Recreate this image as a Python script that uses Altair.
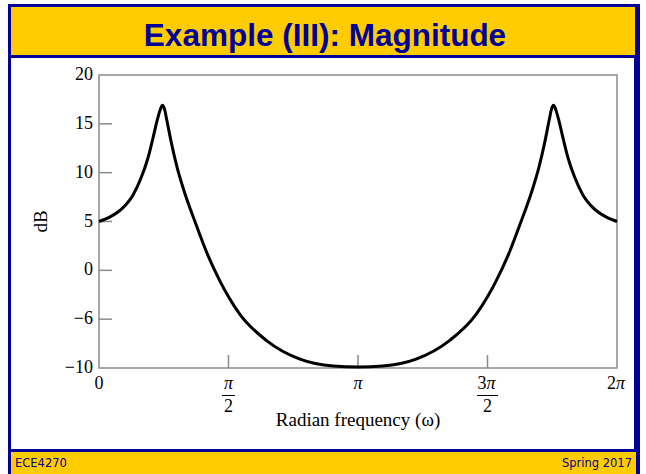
import altair as alt
import pandas as pd

# Magnitude response: frequency in units of pi (0 .. 2pi), level in dB
omega_over_pi = [0.000, 0.041, 0.092, 0.131, 0.163, 0.189, 0.208, 0.227, 0.237,
                 0.245, 0.253, 0.261, 0.279, 0.301, 0.330, 0.369, 0.421, 0.467,
                 0.500, 0.544, 0.647, 0.776, 0.905, 1.000,
                 1.095, 1.224, 1.353, 1.456, 1.500, 1.533, 1.579, 1.631, 1.670,
                 1.699, 1.721, 1.739, 1.747, 1.755, 1.763, 1.773, 1.792, 1.811,
                 1.837, 1.869, 1.908, 1.959, 2.000]
magnitude_db = [5.0, 5.45, 6.4, 7.7, 9.5, 11.5, 13.5, 15.6, 16.5,
                16.9, 16.5, 15.5, 13.1, 10.6, 8.0, 5.1, 1.5, -1.1,
                -2.7, -4.5, -7.2, -9.1, -9.8, -9.9,
                -9.8, -9.1, -7.2, -4.5, -2.7, -1.1, 1.5, 5.1, 8.0,
                10.6, 13.1, 15.5, 16.5, 16.9, 16.5, 15.6, 13.5, 11.5,
                9.5, 7.7, 6.4, 5.45, 5.0]

# Axis ticks
y_tick_values = [-10, -5, 0, 5, 10, 15, 20]
y_tick_labels = ["\u221210", "\u22126", "0", "5", "10", "15", "20"]
x_tick_values = [0, 0.5, 1, 1.5, 2]
x_tick_coefs = ["0", "", "", "3", "2"]        # upright part of the numerator
x_tick_symbols = ["", "\u03c0", "\u03c0", "\u03c0", "\u03c0"]  # italic pi
x_tick_denominators = ["", "2", "", "2", ""]

slide_title = "Example (III): Magnitude"
x_title = "Radian frequency (\u03c9)"
y_title = "dB"
footer_left = "ECE4270"
footer_right = "Spring 2017"

W, H = 518, 293
BLUE = "#000099"
YELLOW = "#FFCC00"
GRAY = "#8a8a8a"
SERIF = "Liberation Serif"
TICK_FONT = 18
TITLE_FONT = 19

curve = pd.DataFrame({"w": omega_over_pi, "db": magnitude_db})
xticks = pd.DataFrame({"w": x_tick_values, "coef": x_tick_coefs,
                       "sym": x_tick_symbols, "den": x_tick_denominators})
yticks = pd.DataFrame({"db": y_tick_values, "label": y_tick_labels})
inner_yticks = pd.DataFrame({"db": y_tick_values[1:-1]})
inner_xticks = pd.DataFrame({"w": x_tick_values[1:-1]})

x_scale = alt.Scale(domain=[0, 2], nice=False, zero=False)
y_scale = alt.Scale(domain=[-10, 20], nice=False, zero=False)
X = alt.X("w:Q", scale=x_scale, axis=None)
Y = alt.Y("db:Q", scale=y_scale, axis=None)

one_row = alt.InlineData(values=[{}])


def panel(x, x2, y, y2, color):
    return alt.Chart(one_row).mark_rect(color=color).encode(
        x=alt.value(x), x2=alt.value(x2), y=alt.value(y), y2=alt.value(y2)
    )


def label(text, x, y, **style):
    return alt.Chart(one_row).mark_text(**style).encode(
        x=alt.value(x), y=alt.value(y), text=alt.value(text)
    )


# Slide frame: blue border, yellow title band, white body, yellow footer
frame = panel(-91, 541, -71, 405, BLUE)
title_band = panel(-88, 536, -68, -20, YELLOW)
body = panel(-88, 535, -17, 374, "white")
footer_band = panel(-88, 537, 377, 405, YELLOW)

title_text = label(slide_title, 226, -29, font="Liberation Sans", fontSize=31.5,
                   fontWeight="bold", color=BLUE, align="center",
                   baseline="alphabetic")
footer_l = label(footer_left, -84, 392, font="DejaVu Sans", fontSize=11.5,
                 color=BLUE, align="left", baseline="alphabetic")
footer_r = label(footer_right, 533, 392, font="DejaVu Sans", fontSize=11.5,
                 color=BLUE, align="right", baseline="alphabetic")

# Plot box
box = alt.Chart(one_row).mark_rect(
    fillOpacity=0, stroke=GRAY, strokeWidth=1.5
).encode(x=alt.value(0), x2=alt.value(W), y=alt.value(0), y2=alt.value(H))

# Inward tick marks
ytick_marks = alt.Chart(inner_yticks).mark_rule(color=GRAY, strokeWidth=1.5).encode(
    y=Y, x=alt.value(0), x2=alt.value(13))
xtick_marks = alt.Chart(inner_xticks).mark_rule(color=GRAY, strokeWidth=1.5).encode(
    x=X, y=alt.value(H), y2=alt.value(H - 13))

line = alt.Chart(curve).mark_line(
    color="black", strokeWidth=3, interpolate="monotone"
).encode(x=X, y=Y)

# Tick labels
ylabels = alt.Chart(yticks).mark_text(
    font=SERIF, fontSize=TICK_FONT, color="black", align="right", baseline="middle"
).encode(y=Y, x=alt.value(-6), text="label:N")

num_y = alt.value(H + 16)
coef_alone = alt.Chart(xticks).mark_text(
    font=SERIF, fontSize=TICK_FONT, color="black", baseline="middle"
).transform_filter("datum.sym == ''").encode(x=X, y=num_y, text="coef:N")
sym_alone = alt.Chart(xticks).mark_text(
    font=SERIF, fontSize=TICK_FONT, color="black", baseline="middle",
    fontStyle="italic"
).transform_filter("datum.coef == ''").encode(x=X, y=num_y, text="sym:N")
coef_pair = alt.Chart(xticks).mark_text(
    font=SERIF, fontSize=TICK_FONT, color="black", baseline="middle",
    align="right", dx=-1
).transform_filter("datum.sym != '' && datum.coef != ''").encode(
    x=X, y=num_y, text="coef:N")
sym_pair = alt.Chart(xticks).mark_text(
    font=SERIF, fontSize=TICK_FONT, color="black", baseline="middle",
    align="left", dx=-1, fontStyle="italic"
).transform_filter("datum.sym != '' && datum.coef != ''").encode(
    x=X, y=num_y, text="sym:N")
denominators = alt.Chart(xticks).mark_text(
    font=SERIF, fontSize=TICK_FONT, color="black", baseline="middle"
).transform_filter("datum.den != ''").encode(
    x=X, y=alt.value(H + 39), text="den:N")
bar_half = alt.Chart(xticks).mark_rule(
    color="black", strokeWidth=1, xOffset=-6.5, x2Offset=6.5
).transform_filter("datum.w == 0.5").encode(x=X, x2="w", y=alt.value(H + 27.5))
bar_three_half = alt.Chart(xticks).mark_rule(
    color="black", strokeWidth=1, xOffset=-10.5, x2Offset=10.5
).transform_filter("datum.w == 1.5").encode(x=X, x2="w", y=alt.value(H + 27.5))

# Axis titles
xtitle = label(x_title, W / 2, H + 52, font=SERIF, fontSize=TITLE_FONT,
               color="black", align="center", baseline="middle")
ytitle = label(y_title, -58, H / 2, font=SERIF, fontSize=TITLE_FONT,
               color="black", align="center", baseline="middle", angle=270)

chart = alt.layer(
    frame, title_band, body, footer_band, title_text, footer_l, footer_r,
    box, ytick_marks, xtick_marks, line, ylabels,
    coef_alone, sym_alone, coef_pair, sym_pair, denominators,
    bar_half, bar_three_half, xtitle, ytitle,
).properties(
    width=W, height=H,
    padding={"left": 99, "top": 75, "right": 29, "bottom": 106},
    autosize=alt.AutoSizeParams(type="none"),
    background="white",
).configure_view(strokeWidth=0)

chart.save("out.html", embed_options={"renderer": "svg", "actions": False})
